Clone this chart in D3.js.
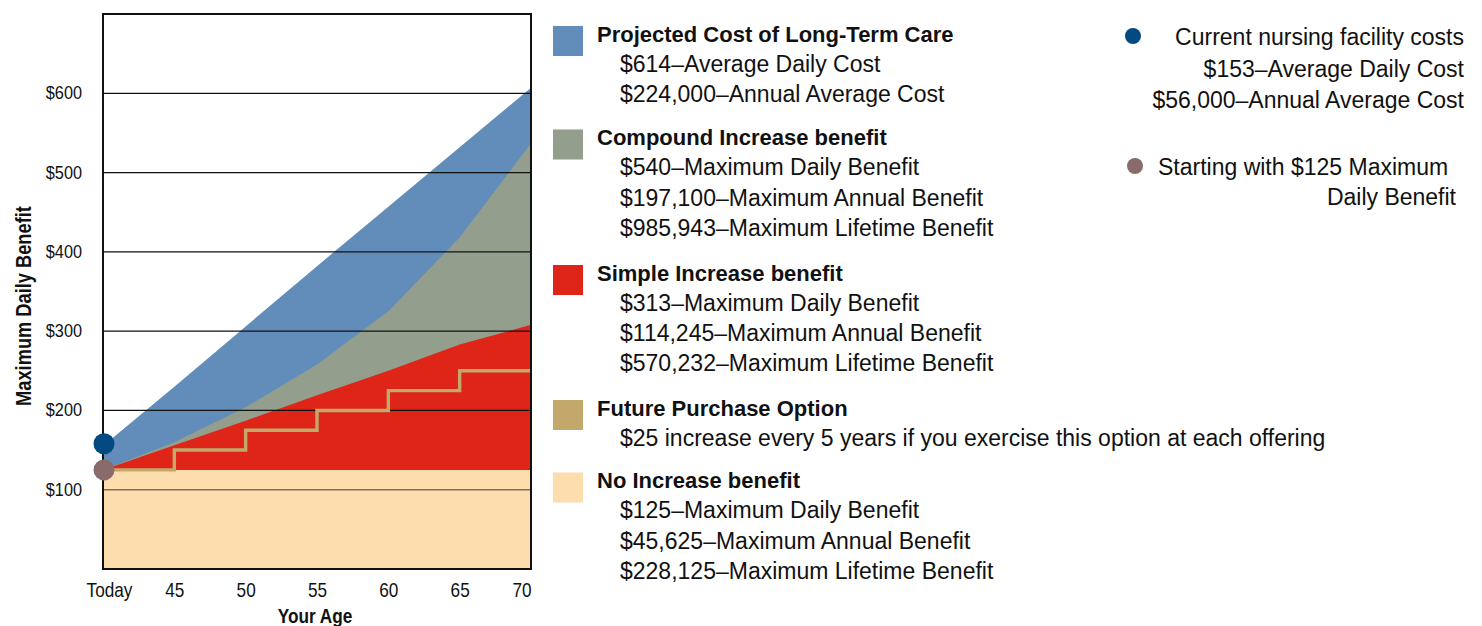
<!DOCTYPE html>
<html><head><meta charset="utf-8">
<script src="https://cdn.jsdelivr.net/npm/d3@7"></script>
<style>
body{margin:0;background:#fff}
svg{display:block}
text{font-family:'Liberation Sans',Arial,sans-serif;fill:#111}
</style>
</head><body><svg id="c" width="1482" height="626"></svg>
<script>
// ---- data ----
const ages = [40, 45, 50, 55, 60, 65, 70];
const ageLabels = ["Today", "45", "50", "55", "60", "65", "70"];
const projectedCost = [155, 230, 306, 382, 457, 532, 607];
const compoundBenefit = [125, 160, 204, 258, 325, 418, 537];
const simpleBenefit = [125, 156, 187, 219, 250, 283, 308];
const futurePurchase = [125, 150, 175, 200, 225, 250, 250];
const noIncrease = [125, 125, 125, 125, 125, 125, 125];
const yTicks = [100, 200, 300, 400, 500, 600];
const currentCostToday = 158;
const startingBenefit = 125;

const legendTitles = ["Projected Cost of Long-Term Care", "Compound Increase benefit", "Simple Increase benefit", "Future Purchase Option", "No Increase benefit"];
const legendLines = [
  ["$614–Average Daily Cost", "$224,000–Annual Average Cost"],
  ["$540–Maximum Daily Benefit", "$197,100–Maximum Annual Benefit", "$985,943–Maximum Lifetime Benefit"],
  ["$313–Maximum Daily Benefit", "$114,245–Maximum Annual Benefit", "$570,232–Maximum Lifetime Benefit"],
  ["$25 increase every 5 years if you exercise this option at each offering"],
  ["$125–Maximum Daily Benefit", "$45,625–Maximum Annual Benefit", "$228,125–Maximum Lifetime Benefit"]
];
const pointTitles = [["Current nursing facility costs", "$153–Average Daily Cost", "$56,000–Annual Average Cost"],
                     ["Starting with $125 Maximum", "Daily Benefit"]];

// ---- styles ----
const C = {blue:"#628dbb", gray:"#939e8c", red:"#df2518", gold:"#c2a96b", peach:"#fddcae",
           dotBlue:"#034a82", dotBrown:"#8a6b6b"};

const svg = d3.select("#c");
const x = d3.scaleLinear().domain([40, 70]).range([103, 531]);
const y = d3.scaleLinear().domain([0, 700]).range([569, 14]);

const rows = ages.map((a, i) => ({a, p: projectedCost[i], c: compoundBenefit[i], s: simpleBenefit[i], f: futurePurchase[i], n: noIncrease[i]}));

function area(key) {
  return d3.area().x(d => x(d.a)).y0(y(0)).y1(d => y(d[key]));
}
const g = svg.append("g");
g.append("path").datum(rows).attr("fill", C.blue).attr("d", area("p"));
g.append("path").datum(rows).attr("fill", C.gray).attr("d", area("c"));
g.append("path").datum(rows).attr("fill", C.red).attr("d", area("s"));
g.append("path").datum(rows).attr("fill", C.peach).attr("d", area("n"));

// gridlines
g.selectAll("line.grid").data(yTicks).join("line")
  .attr("x1", x(40)).attr("x2", x(70))
  .attr("y1", d => y(d)).attr("y2", d => y(d))
  .attr("stroke", d => d === 100 ? "#7a7060" : "#111")
  .attr("stroke-width", d => d === 100 ? 1.6 : 1.2);

// step line
g.append("path").datum(rows)
  .attr("fill", "none").attr("stroke", C.gold).attr("stroke-width", 3.4)
  .attr("d", d3.line().x(d => x(d.a)).y(d => y(d.f)).curve(d3.curveStepAfter));

// frame
g.append("rect").attr("x", x(40)).attr("y", y(700)).attr("width", x(70) - x(40)).attr("height", y(0) - y(700))
  .attr("fill", "none").attr("stroke", "#111").attr("stroke-width", 2);

// dots
g.append("circle").attr("cx", x(40)+1).attr("cy", y(currentCostToday)).attr("r", 10.5).attr("fill", C.dotBlue);
g.append("circle").attr("cx", x(40)+1).attr("cy", y(startingBenefit)).attr("r", 10.5).attr("fill", C.dotBrown);

// axes
const sxTick = 0.88;
const yAxis = svg.append("g").attr("transform", `translate(${x(40)},0)`)
  .call(d3.axisLeft(y).tickValues(yTicks).tickFormat(d => "$" + d).tickSize(0).tickPadding(21 / sxTick));
yAxis.select(".domain").remove();
yAxis.selectAll("text").style("font-size", "18.5px").attr("fill", "#111").attr("dy", "0.3em")
  .attr("transform", `scale(${sxTick},1)`);

const xAxis = svg.append("g").attr("transform", `translate(0,${y(0)})`)
  .call(d3.axisBottom(x).tickValues(ages).tickFormat((d, i) => ageLabels[i]).tickSize(0).tickPadding(14));
xAxis.select(".domain").remove();
xAxis.selectAll("text").style("font-size", "20px").attr("fill", "#111")
  .attr("transform", "scale(0.86,1)");
xAxis.selectAll("text").filter((d, i) => i === 0).attr("dx", 7);
xAxis.selectAll("text").filter((d, i) => i === ages.length - 1).attr("text-anchor", "end");

svg.append("text").attr("transform", "translate(315,623) scale(0.82,1)").attr("text-anchor", "middle")
  .style("font-size", "21px").style("font-weight", "bold").text("Your Age");
svg.append("text").attr("transform", "translate(31,306) rotate(-90) scale(0.83,1)").attr("text-anchor", "middle")
  .style("font-size", "22px").style("font-weight", "bold").text("Maximum Daily Benefit");

// legend
const swatch = [C.blue, C.gray, C.red, C.gold, C.peach];
const titleBase = [41.5, 145, 280.5, 415.5, 488];
const lg = svg.append("g");
legendTitles.forEach((t, i) => {
  lg.append("rect").attr("x", 553).attr("y", titleBase[i] - 15.5).attr("width", 30).attr("height", 30).attr("fill", swatch[i]);
  lg.append("text").attr("x", 597).attr("y", titleBase[i]).style("font-size", "22px").style("font-weight", "bold").text(t);
  legendLines[i].forEach((l, j) => {
    lg.append("text").attr("x", 620).attr("y", titleBase[i] + 30.3 * (j + 1)).style("font-size", "23px").text(l);
  });
});

// point legend
const pg = svg.append("g");
pg.append("circle").attr("cx", 1133).attr("cy", 36).attr("r", 8).attr("fill", C.dotBlue);
pointTitles[0].forEach((t, j) => {
  pg.append("text").attr("x", 1464).attr("y", 45 + 31.5 * j).attr("text-anchor", "end").style("font-size", "23px").text(t);
});
pg.append("circle").attr("cx", 1135).attr("cy", 166).attr("r", 8).attr("fill", C.dotBrown);
pg.append("text").attr("x", 1158).attr("y", 175).style("font-size", "23px").text(pointTitles[1][0]);
pg.append("text").attr("x", 1456).attr("y", 205).attr("text-anchor", "end").style("font-size", "23px").text(pointTitles[1][1]);
</script>
</body></html>
